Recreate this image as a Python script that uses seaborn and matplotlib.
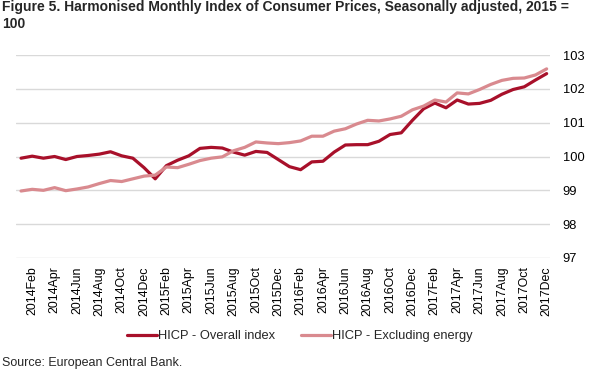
import matplotlib
matplotlib.use("Agg")
import matplotlib.pyplot as plt
import seaborn as sns
import pandas as pd
import numpy as np

months = ["Jan", "Feb", "Mar", "Apr", "May", "Jun", "Jul", "Aug", "Sep", "Oct", "Nov", "Dec"]
periods = [f"{y}{m}" for y in (2014, 2015, 2016, 2017) for m in months]

overall = [99.95, 100.01, 99.95, 100.00, 99.91, 100.00, 100.03, 100.07, 100.14, 100.02,
           99.95, 99.67, 99.34, 99.73, 99.89, 100.02, 100.24, 100.27, 100.25, 100.13,
           100.04, 100.15, 100.12, 99.91, 99.70, 99.61, 99.84, 99.86, 100.13, 100.34,
           100.35, 100.35, 100.45, 100.65, 100.70, 101.07, 101.41, 101.58, 101.44, 101.67,
           101.55, 101.57, 101.66, 101.84, 101.98, 102.06, 102.26, 102.45]

excl_energy = [98.98, 99.03, 99.00, 99.08, 98.99, 99.04, 99.10, 99.20, 99.29, 99.26,
               99.34, 99.42, 99.45, 99.69, 99.67, 99.77, 99.88, 99.95, 99.99, 100.17,
               100.27, 100.43, 100.40, 100.38, 100.41, 100.46, 100.60, 100.60, 100.75, 100.82,
               100.96, 101.07, 101.05, 101.11, 101.19, 101.38, 101.49, 101.67, 101.61, 101.88,
               101.85, 101.98, 102.13, 102.25, 102.31, 102.32, 102.41, 102.59]

series_names = ["HICP - Overall index", "HICP - Excluding energy"]
colors = ["#A8102A", "#D98A8F"]

df = pd.DataFrame({
    "idx": list(range(len(periods))) * 2,
    "value": overall + excl_energy,
    "series": [series_names[0]] * len(periods) + [series_names[1]] * len(periods),
})

sns.set_theme(style="white")
plt.rcParams["font.family"] = ["Liberation Sans", "DejaVu Sans"]

fig = plt.figure(figsize=(5.93, 3.81), dpi=100)
ax = fig.add_axes([16 / 593, 1 - 258 / 381, (550 - 16) / 593, (258 - 55) / 381])

sns.lineplot(data=df, x="idx", y="value", hue="series", hue_order=series_names,
             palette=colors, linewidth=2.3, ax=ax, legend=False)

ax.set_ylim(97, 103)
ax.set_yticks([97, 98, 99, 100, 101, 102, 103])
ax.set_xlim(-0.45, 47.3)
tick_pos = list(range(1, len(periods), 2))
ax.set_xticks(tick_pos)
ax.set_xticklabels([periods[i] for i in tick_pos], rotation=90, fontsize=8.9, color="#000000")
ax.yaxis.tick_right()
ax.tick_params(axis="y", length=0, pad=9, labelsize=9.3, labelcolor="#000000")
ax.tick_params(axis="x", length=0, pad=6)
ax.grid(axis="y", color="#D9D9D9", linewidth=1)
ax.set_axisbelow(True)
for s in ax.spines.values():
    s.set_visible(False)
ax.set_xlabel("")
ax.set_ylabel("")

from matplotlib.lines import Line2D
handles = [Line2D([0], [0], color=c, linewidth=2.3) for c in colors]
fig.legend(handles, series_names, loc="center", bbox_to_anchor=(300 / 593, 1 - 336 / 381),
           ncol=2, frameon=False, fontsize=9.3, handlelength=2.3, handletextpad=0.1,
           columnspacing=2.0)

fig.text(0.003, 1 - 0.5 / 381,
         "Figure 5. Harmonised Monthly Index of Consumer Prices, Seasonally adjusted, 2015 =\n100",
         fontsize=10, fontweight="bold", ha="left", va="top", linespacing=1.22)
fig.text(0.003, 1 - 363 / 381, "Source: European Central Bank.", fontsize=9,
         ha="left", va="center")

fig.savefig("out.png", dpi=100)
